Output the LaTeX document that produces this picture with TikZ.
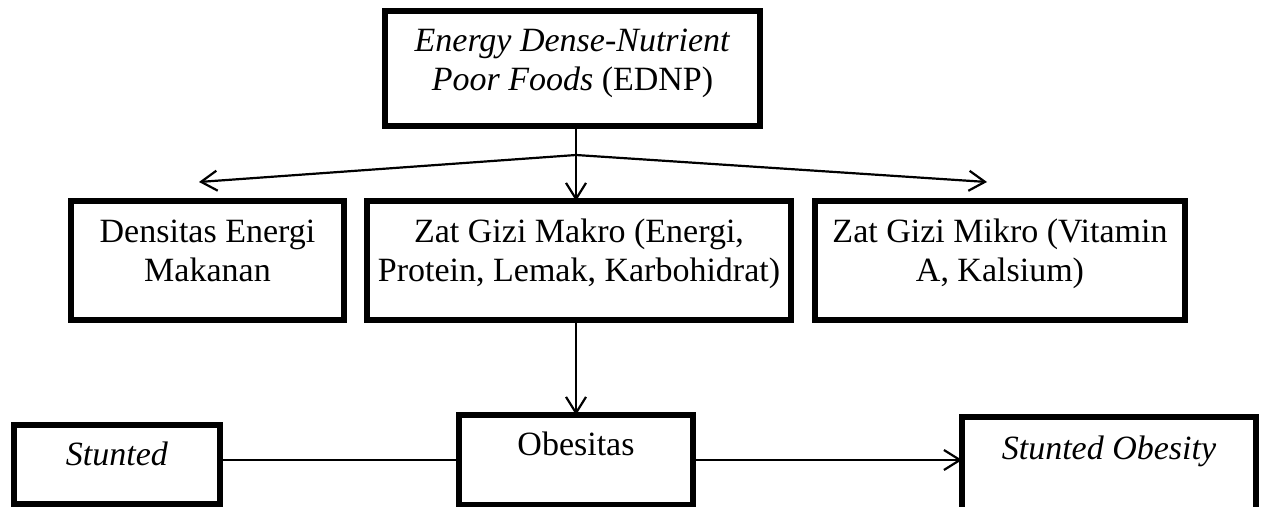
\documentclass[tikz,border=0pt]{standalone}
\usepackage{fontspec}
\setmainfont{Liberation Serif}
\usetikzlibrary{arrows.meta}

\begin{document}
\begin{tikzpicture}[x=0.5pt,y=-0.5pt]
        \tikzset{blok/.style={draw, line width=2.6pt, inner sep=0pt, outer sep=0pt,
                align=center, anchor=north west, font=\fontsize{17pt}{19.5pt}\selectfont},
            panah/.style={-{Straight Barb[length=8pt, width=10pt]}, line width=1.1pt}}
        \useasboundingbox (0,0) rectangle (1262,507);
        % top box
        \node[blok, minimum width=187.5pt, text height=40pt, text depth=17.5pt] (ednp) at (385,11)
            {\textit{Energy Dense-Nutrient}\\\textit{Poor Foods} (EDNP)};
        % middle row
        \node[blok, minimum width=136.5pt, text height=40.5pt, text depth=19pt] (densitas) at (71,201)
            {Densitas Energi\\Makanan};
        \node[blok, minimum width=212pt, text height=40.5pt, text depth=19pt] (makro) at (367,201)
            {Zat Gizi Makro (Energi,\\Protein, Lemak, Karbohidrat)};
        \node[blok, minimum width=185pt, text height=40.5pt, text depth=19pt] (mikro) at (815,201)
            {Zat Gizi Mikro (Vitamin\\A, Kalsium)};
        % bottom row
        \node[blok, minimum width=103pt, text height=20pt, text depth=19.5pt] (stunted) at (14,425)
            {\textit{Stunted}};
        \node[blok, minimum width=117pt, text height=20pt, text depth=25pt] (obesitas) at (459,415)
            {Obesitas};
        \node[blok, minimum width=147pt, text height=21pt, text depth=35.5pt] (stuntob) at (962,417)
            {\textit{Stunted Obesity}};

        \coordinate (pisah) at (576,155);
        \coordinate (kiri) at (199,182);
        \coordinate (kanan) at (987,182);
        \draw[line width=1.1pt] (pisah |- ednp.south) -- (pisah);
        \draw[panah] (pisah) -- (kiri);
        \draw[panah] (pisah) -- (kanan);
        \draw[panah] (pisah) -- (pisah |- makro.north);
        \draw[panah] (pisah |- makro.south) -- (pisah |- obesitas.north);
        \draw[line width=1.1pt] (stunted.east |- obesitas.west) -- (obesitas.west);
        \draw[panah] (obesitas.east) -- (stuntob.west |- obesitas.east);
\end{tikzpicture}
\end{document}
